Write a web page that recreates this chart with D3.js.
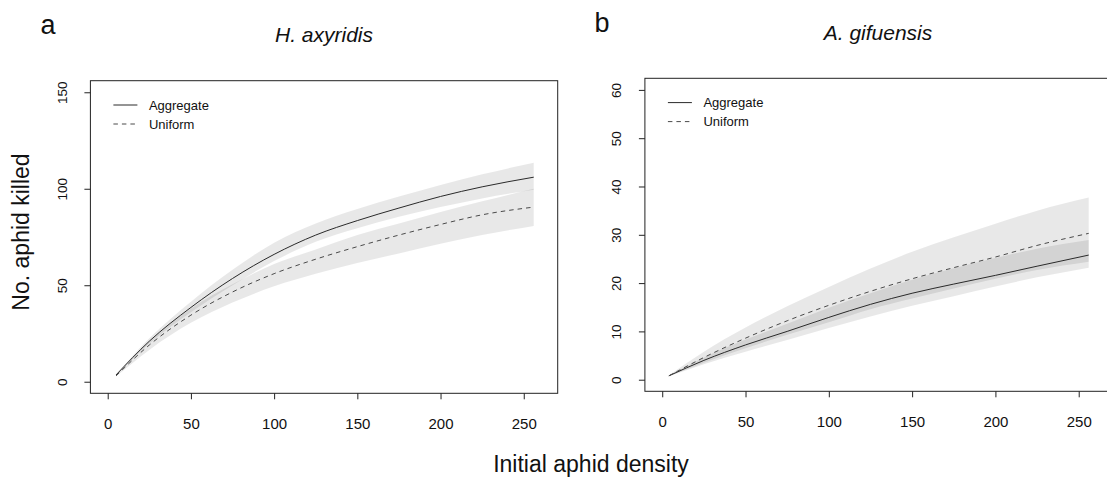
<!DOCTYPE html>
<html>
<head>
<meta charset="utf-8">
<script src="https://cdn.jsdelivr.net/npm/d3@7"></script>
<style>
	body { margin: 0; background: #fff; }
	svg { display: block; font-family: "Liberation Sans", Arial, sans-serif; }
</style>
</head>
<body>
<div id="chart"></div>
<script>
// values
const densityA = [5, 25, 50, 75, 100, 125, 150, 175, 200, 225, 256]
const aggFitA = [3.5, 21, 38.5, 53.5, 66, 76, 83.5, 90, 96, 101, 106]
const aggLoA = [3.2, 19.8, 36, 50, 62.5, 72.5, 79.5, 85.5, 90.5, 95, 99.5]
const aggHiA = [3.8, 22.5, 41.5, 58, 72, 82, 89.5, 96, 102, 107.5, 113.5]
const uniFitA = [3, 19, 34.5, 46.5, 56, 63.5, 70, 76, 81.5, 86.5, 90.5]
const uniLoA = [2.7, 16.5, 30.5, 41, 49.5, 56, 61.5, 66.5, 71.5, 76, 80.7]
const uniHiA = [3.3, 21, 38, 50.5, 61, 68.5, 76, 82, 88, 93.5, 100]

const densityB = [4, 25, 50, 75, 100, 125, 150, 175, 200, 225, 256]
const aggFitB = [0.8, 4, 7.2, 10, 12.9, 15.6, 17.9, 19.8, 21.6, 23.5, 25.8]
const aggLoB = [0.7, 3.2, 5.8, 8.2, 10.7, 13.1, 15.3, 17.3, 19.3, 21.2, 23.2]
const aggHiB = [0.9, 4.6, 8.3, 11.6, 14.9, 17.9, 20.7, 23.1, 25.2, 27.1, 28.9]
const uniFitB = [0.8, 4.6, 8.6, 12.2, 15.4, 18.3, 20.9, 23.2, 25.4, 27.8, 30.3]
const uniLoB = [0.7, 3.5, 6.5, 9.3, 11.9, 14.6, 16.8, 18.9, 20.9, 22.7, 24.4]
const uniHiB = [0.9, 5.8, 10.8, 15.2, 19.2, 23, 26.5, 29.5, 32.3, 35, 37.7]

const xTicks = [0, 50, 100, 150, 200, 250]
const yTicksA = [0, 50, 100, 150]
const yTicksB = [0, 10, 20, 30, 40, 50, 60]
const legendLabels = ["Aggregate", "Uniform"]

const W = 1107, H = 477

const svg = d3.select("#chart")
	.append("svg")
	.attr("width", W)
	.attr("height", H)

function panel(p) {
	const x = d3.scaleLinear().domain([-10.4, 270.4]).range([p.left, p.right])
	const y = d3.scaleLinear().domain(p.yDomain).range([p.bottom, p.top])

	const g = svg.append("g")

	const rows = p.density.map((d, i) => ({
		d: d,
		aFit: p.aggFit[i], aLo: p.aggLo[i], aHi: p.aggHi[i],
		uFit: p.uniFit[i], uLo: p.uniLo[i], uHi: p.uniHi[i]
	}))

	const band = (lo, hi) => d3.area()
		.x(d => x(d.d))
		.y0(d => y(d[lo]))
		.y1(d => y(d[hi]))
		.curve(d3.curveMonotoneX)

	const line = key => d3.line()
		.x(d => x(d.d))
		.y(d => y(d[key]))
		.curve(d3.curveMonotoneX)

	g.append("path")
		.attr("d", band("aLo", "aHi")(rows))
		.attr("fill", "rgba(0,0,0,0.09)")
	g.append("path")
		.attr("d", band("uLo", "uHi")(rows))
		.attr("fill", "rgba(0,0,0,0.09)")

	g.append("path")
		.attr("d", line("aFit")(rows))
		.attr("fill", "none")
		.attr("stroke", "#2a2a2a")
		.attr("stroke-width", 1)
	g.append("path")
		.attr("d", line("uFit")(rows))
		.attr("fill", "none")
		.attr("stroke", "#4a4a4a")
		.attr("stroke-width", 1)
		.attr("stroke-dasharray", "4.5,4")

	// box
	g.append("rect")
		.attr("x", p.left)
		.attr("y", p.top)
		.attr("width", p.right - p.left)
		.attr("height", p.bottom - p.top)
		.attr("fill", "none")
		.attr("stroke", "#222")

	const xAxis = g.append("g")
		.attr("transform", `translate(0,${p.bottom})`)
		.call(d3.axisBottom(x).tickValues(xTicks).tickSize(6).tickPadding(19))
	xAxis.select(".domain").remove()
	xAxis.selectAll("line").attr("stroke", "#222")
	xAxis.selectAll("text")
		.attr("font-size", 15)
		.attr("font-family", "Liberation Sans, Arial, sans-serif")
		.attr("fill", "#111")

	const yAxis = g.append("g")
		.attr("transform", `translate(${p.left},0)`)
		.call(d3.axisLeft(y).tickValues(p.yTicks).tickSize(6))
	yAxis.select(".domain").remove()
	yAxis.selectAll("line").attr("stroke", "#222")
	yAxis.selectAll("text")
		.attr("transform", "rotate(-90)")
		.attr("text-anchor", "middle")
		.attr("x", 0)
		.attr("y", -23.5)
		.attr("dy", null)
		.attr("font-size", 13.5)
		.attr("font-family", "Liberation Sans, Arial, sans-serif")
		.attr("fill", "#111")

	// legend
	const legend = g.append("g")
		.attr("transform", `translate(${p.left + 23},${p.top + 24.3})`)
	legendLabels.forEach(function(lab, i) {
		legend.append("line")
			.attr("x1", 0)
			.attr("x2", 24)
			.attr("y1", i * 19)
			.attr("y2", i * 19)
			.attr("stroke", i === 0 ? "#2a2a2a" : "#4a4a4a")
			.attr("stroke-dasharray", i === 0 ? null : "4.5,4")
		legend.append("text")
			.attr("x", 35.5)
			.attr("y", i * 19)
			.attr("dy", "0.35em")
			.attr("font-size", 13)
			.attr("fill", "#111")
			.text(lab)
	})

	svg.append("text")
		.attr("x", p.titleX)
		.attr("y", p.titleY)
		.attr("text-anchor", "middle")
		.attr("font-size", 21)
		.attr("font-style", "italic")
		.attr("fill", "#111")
		.text(p.title)

	svg.append("text")
		.attr("x", p.letterX)
		.attr("y", p.letterY)
		.attr("text-anchor", "middle")
		.attr("font-size", 27)
		.attr("fill", "#111")
		.text(p.letter)
}

panel({
	left: 90.4, right: 557.7, top: 80.7, bottom: 393.3,
	yDomain: [-6, 156], yTicks: yTicksA,
	density: densityA,
	aggFit: aggFitA, aggLo: aggLoA, aggHi: aggHiA,
	uniFit: uniFitA, uniLo: uniLoA, uniHi: uniHiA,
	title: "H. axyridis", titleX: 324, titleY: 42,
	letter: "a", letterX: 48, letterY: 34
})

panel({
	left: 644.9, right: 1112.7, top: 78.3, bottom: 391.3,
	yDomain: [-2.4, 62.4], yTicks: yTicksB,
	density: densityB,
	aggFit: aggFitB, aggLo: aggLoB, aggHi: aggHiB,
	uniFit: uniFitB, uniLo: uniLoB, uniHi: uniHiB,
	title: "A. gifuensis", titleX: 878, titleY: 40,
	letter: "b", letterX: 602, letterY: 32
})

svg.append("text")
	.attr("transform", "translate(29,232) rotate(-90)")
	.attr("text-anchor", "middle")
	.attr("font-size", 23)
	.attr("fill", "#111")
	.text("No. aphid killed")

svg.append("text")
	.attr("x", 591)
	.attr("y", 472)
	.attr("text-anchor", "middle")
	.attr("font-size", 23)
	.attr("fill", "#111")
	.text("Initial aphid density")
</script>
</body>
</html>
